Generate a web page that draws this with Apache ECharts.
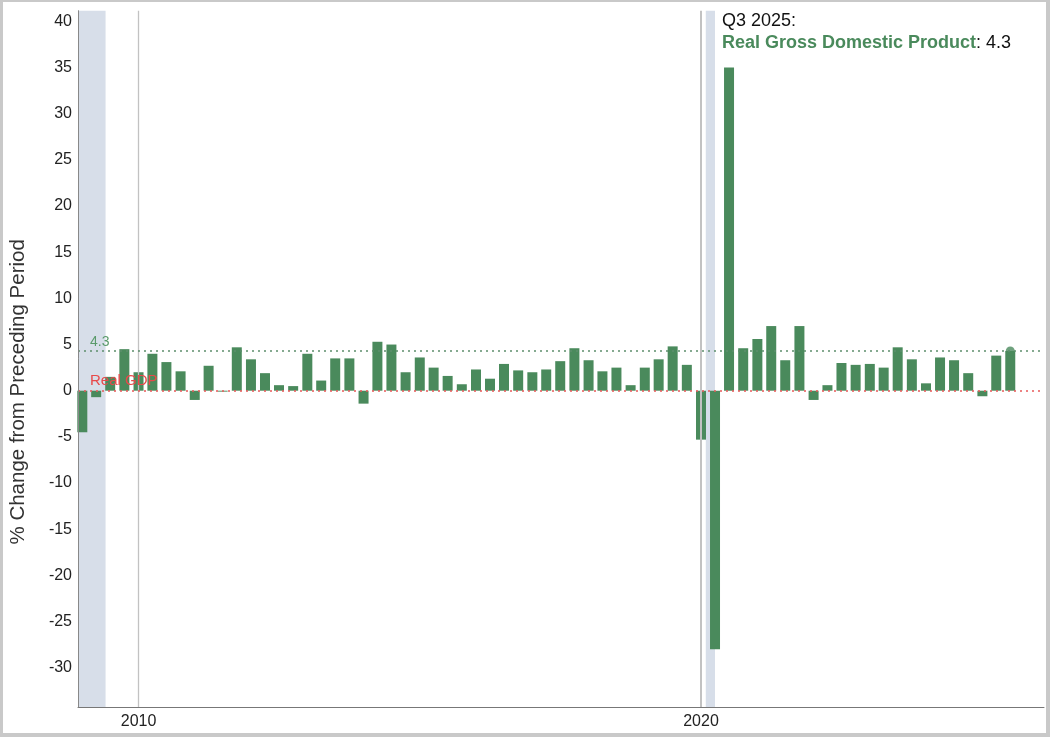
<!DOCTYPE html>
<html>
<head>
<meta charset="utf-8">
<script src="https://cdn.jsdelivr.net/npm/echarts@6/dist/echarts.min.js"></script>
<style>
  html, body { margin: 0; padding: 0; background: #fff; }
  #chart { width: 1050px; height: 737px; position: absolute; left: 0; top: 0; }
  #frame { position: absolute; left: 0; top: 0; width: 1050px; height: 737px; box-sizing: border-box;
           border-style: solid; border-color: #c9c9c9; border-width: 2px 4px 4px 3px; pointer-events: none; }
</style>
</head>
<body>
<div id="chart"></div>
<div id="frame"></div>
<script>
// Quarter start dates (each bar is placed at the first day of its quarter)
const quarterDates = [
  '2009-01-01','2009-04-01','2009-07-01','2009-10-01',
  '2010-01-01','2010-04-01','2010-07-01','2010-10-01',
  '2011-01-01','2011-04-01','2011-07-01','2011-10-01',
  '2012-01-01','2012-04-01','2012-07-01','2012-10-01',
  '2013-01-01','2013-04-01','2013-07-01','2013-10-01',
  '2014-01-01','2014-04-01','2014-07-01','2014-10-01',
  '2015-01-01','2015-04-01','2015-07-01','2015-10-01',
  '2016-01-01','2016-04-01','2016-07-01','2016-10-01',
  '2017-01-01','2017-04-01','2017-07-01','2017-10-01',
  '2018-01-01','2018-04-01','2018-07-01','2018-10-01',
  '2019-01-01','2019-04-01','2019-07-01','2019-10-01',
  '2020-01-01','2020-04-01','2020-07-01','2020-10-01',
  '2021-01-01','2021-04-01','2021-07-01','2021-10-01',
  '2022-01-01','2022-04-01','2022-07-01','2022-10-01',
  '2023-01-01','2023-04-01','2023-07-01','2023-10-01',
  '2024-01-01','2024-04-01','2024-07-01','2024-10-01',
  '2025-01-01','2025-04-01','2025-07-01'
];

// Real GDP, % change from preceding period (annualized)
const realGDPGrowth = [
  -4.5, -0.7, 1.5, 4.5,
  2.0, 4.0, 3.1, 2.1,
  -1.0, 2.7, -0.1, 4.7,
  3.4, 1.9, 0.6, 0.5,
  4.0, 1.1, 3.5, 3.5,
  -1.4, 5.3, 5.0, 2.0,
  3.6, 2.5, 1.6, 0.7,
  2.3, 1.3, 2.9, 2.2,
  2.0, 2.3, 3.2, 4.6,
  3.3, 2.1, 2.5, 0.6,
  2.5, 3.4, 4.8, 2.8,
  -5.3, -28.0, 35.0, 4.6,
  5.6, 7.0, 3.3, 7.0,
  -1.0, 0.6, 3.0, 2.8,
  2.9, 2.5, 4.7, 3.4,
  0.8, 3.6, 3.3, 1.9,
  -0.6, 3.8, 4.3
];

// Recession periods (shaded)
const recessionStarts = ['2008-12-04', '2020-02-01'];
const recessionEnds   = ['2009-06-01', '2020-04-01'];

// Axis ticks
const yTickValues = [-30, -25, -20, -15, -10, -5, 0, 5, 10, 15, 20, 25, 30, 35, 40];
const xTickDates = ['2010-01-01', '2020-01-01'];
const xTickLabels = ['2010', '2020'];
const xRange = ['2008-12-04', '2026-02-05'];

const seriesName = 'Real Gross Domestic Product';
const latestLabel = 'Q3 2025';

const GREEN = '#4a8a5c';
const FONT = 'Liberation Sans, Arial, sans-serif';
const lastIdx = realGDPGrowth.length - 1;
const lastValue = realGDPGrowth[lastIdx];

function ts(s) { const p = s.split('-').map(Number); return Date.UTC(p[0], p[1] - 1, p[2]); }

const barData = quarterDates.map((d, i) => [ts(d), realGDPGrowth[i]]);
const xTickTs = xTickDates.map(ts);

const chart = echarts.init(document.getElementById('chart'), null, { renderer: 'canvas' });

chart.setOption({
  animation: false,
  backgroundColor: '#ffffff',
  textStyle: { fontFamily: FONT },
  title: {
    left: 722, top: 10, padding: 0,
    text: '{a|' + latestLabel + ':}\n{b|' + seriesName + '}{c|: ' + lastValue + '}',
    textStyle: {
      fontWeight: 'normal',
      rich: {
        a: { fontSize: 18, color: '#111', fontWeight: 'normal', lineHeight: 22, fontFamily: FONT },
        b: { fontSize: 18, color: GREEN, fontWeight: 'bold', lineHeight: 22, fontFamily: FONT },
        c: { fontSize: 18, color: '#111', fontWeight: 'normal', lineHeight: 22, fontFamily: FONT }
      }
    }
  },
  grid: { left: 78, right: 6, top: 10.7, bottom: 30, containLabel: false, outerBoundsMode: 'none' },
  xAxis: {
    type: 'value',
    min: ts(xRange[0]),
    max: ts(xRange[1]),
    axisLine: { show: true, onZero: false, lineStyle: { color: '#777', width: 1 } },
    axisTick: { show: false },
    splitLine: { show: false },
    axisLabel: {
      customValues: xTickTs,
      formatter: function (v) {
        const i = xTickTs.indexOf(v);
        return i >= 0 ? xTickLabels[i] : String(new Date(v).getUTCFullYear());
      },
      color: '#222', fontSize: 16, margin: 7
    }
  },
  yAxis: {
    type: 'value',
    z: 5,
    min: -34.25,
    max: 41.15,
    name: '% Change from Preceding Period',
    nameLocation: 'middle',
    nameGap: 49,
    nameTextStyle: { fontSize: 20.5, color: '#333', padding: [0, 66, 0, 0] },
    axisLine: { show: true, onZero: false, lineStyle: { color: '#888', width: 1 } },
    axisTick: { show: false },
    splitLine: { show: false },
    axisLabel: { customValues: yTickValues, color: '#222', fontSize: 16, margin: 6 }
  },
  series: [
    {
      name: 'background',
      type: 'line',
      data: [],
      z: 1,
      silent: true,
      markArea: {
        silent: true,
        itemStyle: { color: '#d7dee9' },
        data: recessionStarts.map((s, i) => [{ xAxis: ts(s) }, { xAxis: ts(recessionEnds[i]) }])
      },
      markLine: {
        silent: true,
        symbol: ['none', 'none'],
        data: [
          { xAxis: xTickTs[0], lineStyle: { color: '#c2c2c2', width: 1.3, type: 'solid' }, label: { show: false } },
          { xAxis: xTickTs[1], lineStyle: { color: '#c2c2c2', width: 2, type: 'solid' }, label: { show: false } },
          { yAxis: lastValue, lineStyle: { color: '#5e8f6c', width: 1.5, type: [2, 4] },
            label: { show: true, position: 'insideStartTop', formatter: String(lastValue), color: '#5a9a6a', fontSize: 14, distance: [12, 2] } },
          { yAxis: 0, lineStyle: { color: '#e8595a', width: 1.5, type: [2, 4] },
            label: { show: true, position: 'insideStartTop', formatter: 'Real GDP', color: '#e8494a', fontSize: 15, distance: [12, 2] } }
        ]
      }
    },
    {
      name: seriesName,
      type: 'bar',
      data: barData,
      barWidth: 10,
      z: 3,
      itemStyle: { color: GREEN },
      silent: true
    },
    {
      name: 'latest',
      type: 'scatter',
      data: [barData[lastIdx]],
      symbol: 'circle',
      symbolSize: 9,
      z: 4,
      itemStyle: { color: GREEN },
      silent: true
    }
  ]
});
</script>
</body>
</html>
